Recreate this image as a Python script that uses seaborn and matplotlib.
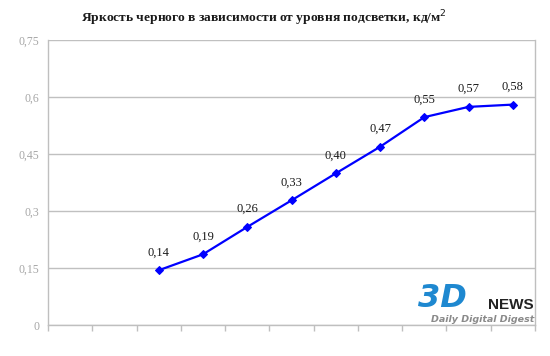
import matplotlib
matplotlib.use("Agg")
import matplotlib.pyplot as plt
import seaborn as sns

# 11 category slots on the x axis, data only in the last nine
slots = list(range(11))
x_vals = [2, 3, 4, 5, 6, 7, 8, 9, 10]
y_vals = [0.144, 0.186, 0.258, 0.328, 0.399, 0.469, 0.547, 0.574, 0.580]
y_ticks = [0, 0.15, 0.3, 0.45, 0.6, 0.75]
y_tick_labels = ["0", "0,15", "0,3", "0,45", "0,6", "0,75"]
title = "Яркость черного в зависимости от уровня подсветки, кд/м$^2$"

sns.set_style("white")
plt.rcParams["font.family"] = ["Liberation Serif", "DejaVu Serif"]

fig = plt.figure(figsize=(5.5, 3.56), dpi=100)
ax = fig.add_axes([48 / 550, 31 / 356, 487 / 550, 285 / 356])

sns.lineplot(
    x=x_vals,
    y=y_vals,
    ax=ax,
    color="#0000ff",
    linewidth=1.6,
    marker="D",
    markersize=4,
    markeredgecolor="#0000ff",
)

for x, y in zip(x_vals, y_vals):
    ax.annotate(
        f"{y:.2f}".replace(".", ","),
        (x, y),
        xytext=(0, 8.5),
        textcoords="offset points",
        ha="center",
        va="bottom",
        fontsize=9,
        color="#1a1a1a",
    )

ax.set_xlim(-0.5, 10.5)
ax.set_ylim(0, 0.75)
ax.set_xticks([s - 0.5 for s in slots] + [10.5])
ax.set_xticklabels([])
ax.set_yticks(y_ticks)
ax.set_yticklabels(y_tick_labels, color="#a6a6a6", fontsize=8.5)
ax.yaxis.grid(True, color="#c0c0c0", linewidth=1)
ax.tick_params(axis="x", length=4, color="#bfbfbf", width=1, bottom=True)
ax.tick_params(axis="y", length=0, pad=6)
for side in ["left", "bottom", "right"]:
    ax.spines[side].set_color("#bfbfbf")
    ax.spines[side].set_linewidth(1)
ax.spines["top"].set_visible(False)
ax.set_xlabel("")
ax.set_ylabel("")

fig.text(0.48, 1 - 18 / 356, title, ha="center", va="center",
         fontsize=9.7, fontweight="bold", color="#1a1a1a")

# 3DNews logo
fig.text(418 / 550, 1 - 307 / 356, "3D", ha="left", va="baseline",
         fontsize=23, fontweight="bold", style="italic", color="#1e88d0",
         family="DejaVu Sans")
fig.text(534 / 550, 1 - 309 / 356, "NEWS", ha="right", va="baseline",
         fontsize=11, fontweight="bold", color="#222222",
         family="Liberation Sans")
fig.text(534 / 550, 1 - 320 / 356, "Daily Digital Digest", ha="right",
         va="center", fontsize=6.8, style="italic", fontweight="bold",
         color="#8a8a8a", family="DejaVu Sans")

fig.savefig("out.png", dpi=100)
